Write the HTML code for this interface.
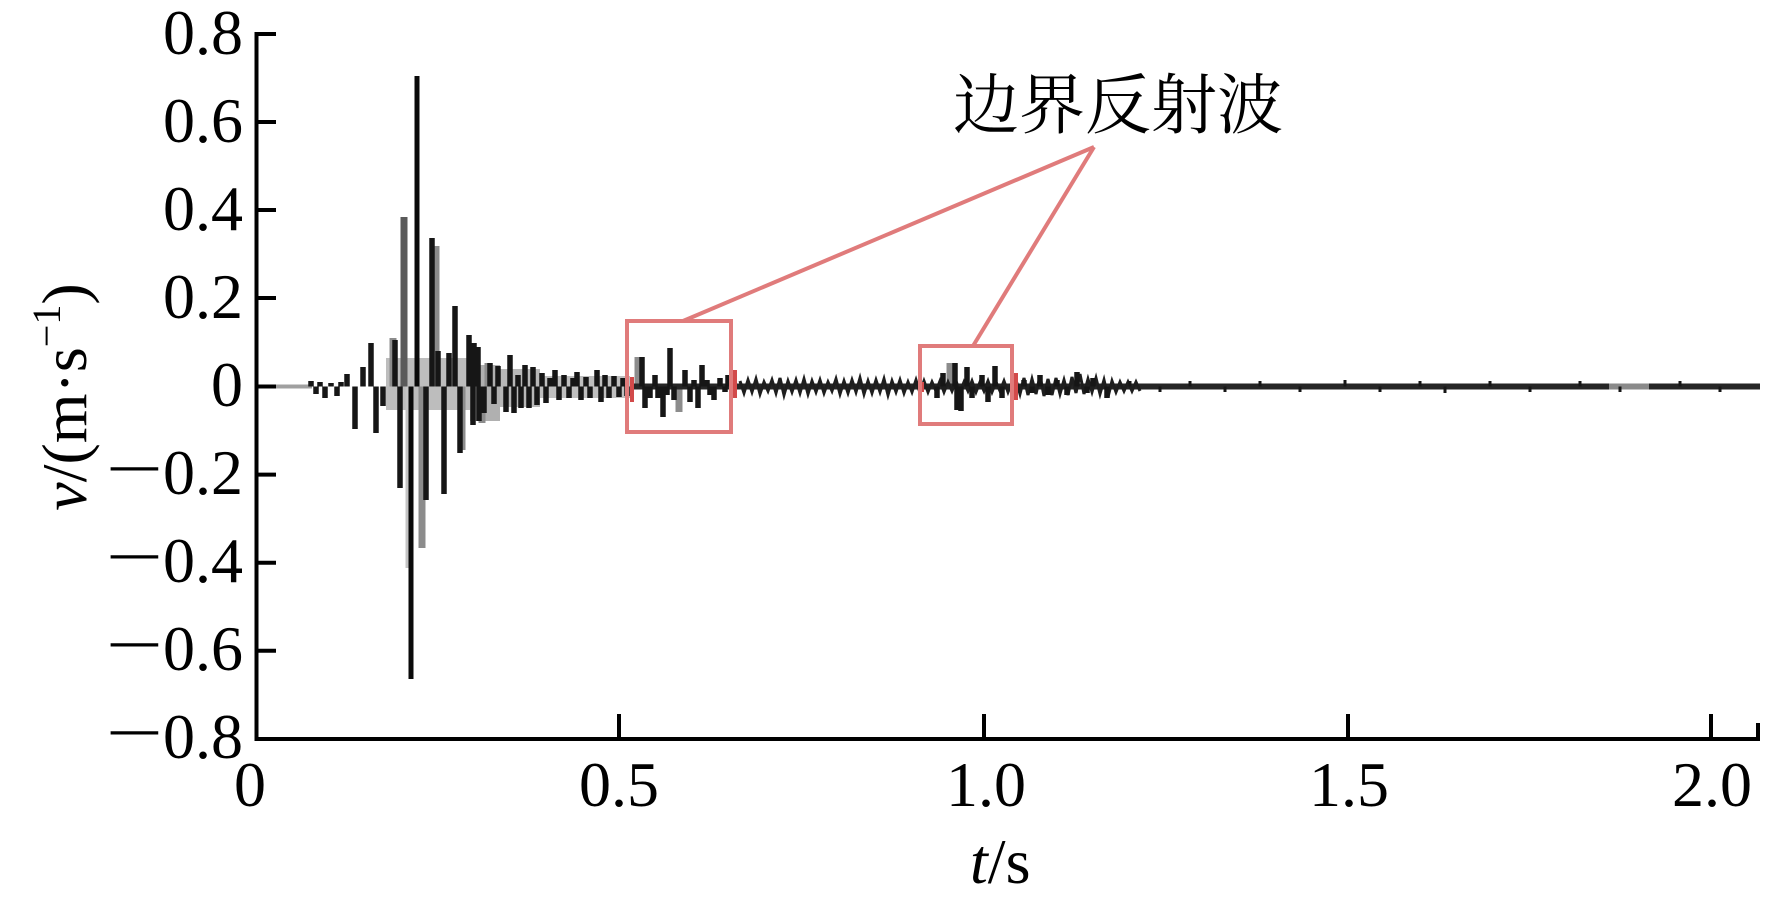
<!DOCTYPE html>
<html>
<head>
<meta charset="utf-8">
<style>
html,body{margin:0;padding:0;background:#fff;}
svg{display:block;}
text{font-family:"Liberation Serif","Noto Serif CJK SC",serif;fill:#000;}
</style>
</head>
<body>
<svg width="1769" height="904" viewBox="0 0 1769 904" xmlns="http://www.w3.org/2000/svg">
<rect x="0" y="0" width="1769" height="904" fill="#fff"/>

<!-- ===== waveform ===== -->
<path d="M258 386.5 H312" stroke="#a0a0a0" stroke-width="4" fill="none"/>
<!-- gray fill blobs -->
<rect x="386" y="358" width="84" height="52" fill="#bdbdbd"/>
<rect x="470" y="365" width="30" height="56" fill="#b0b0b0"/>
<rect x="500" y="369" width="40" height="38" fill="#b8b8b8"/>
<rect x="540" y="376" width="90" height="22" fill="#bfbfbf"/>
<!-- gray bodies -->
<path d="M393 386.5V338 M422 386.5V548 M436 386.5V246 M462 386.5V450 M488 386.5V363 M482 386.5V423 M638 386.5V357 M679 386.5V412 M950 386.5V363"
      stroke="#8c8c8c" stroke-width="7" fill="none"/>
<path d="M404 386.5V217" stroke="#5a5a5a" stroke-width="7" fill="none"/>
<path d="M408 386.5V568" stroke="#c4c4c4" stroke-width="5" fill="none"/>
<!-- continuous band after burst -->
<path d="M630 386.5 H1760" stroke="#262626" stroke-width="6" fill="none"/>
<path d="M1609 386.5 H1649" stroke="#8a8a8a" stroke-width="6" fill="none"/>
<!-- dense small oscillation -->
<polyline fill="none" stroke="#1e1e1e" stroke-width="3" points="
740,381 744,393 748,380 752,392 756,379 760,394 764,382 768,391 772,380 776,393 780,378 784,395 788,381 792,392 796,380 800,393 804,379 808,394 812,381 816,392 820,380 824,393 828,382 832,391 836,379 840,394 844,381 848,393 852,380 856,392 860,378 864,394 868,381 872,393 876,380 880,392 884,379 888,395 892,381 896,392 900,380 904,393 908,382 912,392 916,380 920,393 924,381 928,392 932,382 936,391 940,381 944,392 948,382 952,391 956,381 960,392 964,382 968,391 972,381 976,392 980,382 984,391 988,381 992,392 996,382 1000,391 1004,381 1008,392 1012,382 1016,380 1020,394 1024,378 1028,395 1032,379 1036,394 1040,376 1044,396 1048,379 1052,395 1056,378 1060,394 1064,380 1068,395 1072,377 1076,393 1080,374 1084,394 1088,379 1092,392 1096,378 1100,394 1104,380 1108,397 1112,381 1116,392 1120,382 1124,391 1128,382 1132,391 1136,382 1140,391"/>
<!-- dark bars main burst -->
<path d="
M311 386.5V381 M316 386.5V394 M320 386.5V382 M325 386.5V398 M331 386.5V383 M337 386.5V396 M341 386.5V382
M347 386.5V374 M355 386.5V429 M363 386.5V367 M371 386.5V343 M376 386.5V433 M383 386.5V406
M395 386.5V340 M400 386.5V488 M426 386.5V500 M432 386.5V238 M438 386.5V351 M444 386.5V494
M449 386.5V353 M455 386.5V306 M460 386.5V453 M469 386.5V335 M473 386.5V425 M474 386.5V343
M478 386.5V347 M479 386.5V421 M484 386.5V413 M490 386.5V363 M494 386.5V404 M498 386.5V366
M506 386.5V412 M510 386.5V355 M514 386.5V413 M518 386.5V375 M521 386.5V408 M525 386.5V365
M529 386.5V408 M533 386.5V367 M537 386.5V405 M542 386.5V373 M546 386.5V403 M550 386.5V378
M555 386.5V370 M559 386.5V400 M564 386.5V375 M569 386.5V398 M573 386.5V378 M577 386.5V372
M581 386.5V400 M586 386.5V377 M590 386.5V398 M597 386.5V370 M601 386.5V402 M605 386.5V375
M609 386.5V398 M614 386.5V376 M619 386.5V397 M623 386.5V378 M627 386.5V396
M642 386.5V357 M645 386.5V408 M650 386.5V398 M655 386.5V375 M658 386.5V398 M663 386.5V417
M667 386.5V395 M670 386.5V348 M674 386.5V400 M685 386.5V370 M690 386.5V402 M694 386.5V380
M698 386.5V408 M702 386.5V365 M707 386.5V380 M710 386.5V395 M714 386.5V400 M720 386.5V378
M725 386.5V392 M728 386.5V375
M937 386.5V398 M943 386.5V373 M955 386.5V363 M957 386.5V410 M961 386.5V411 M967 386.5V367
M972 386.5V398 M982 386.5V375 M988 386.5V402 M995 386.5V366 M1002 386.5V398
M1024 386.5V380 M1032 386.5V393 M1040 386.5V375 M1048 386.5V395 M1057 386.5V380 M1067 386.5V395
M1077 386.5V372 M1087 386.5V393 M1093 386.5V378 M1107 386.5V398"
      stroke="#161616" stroke-width="5.5" fill="none"/>
<path d="
M1130 386.5V381 M1160 386.5V392 M1190 386.5V381 M1225 386.5V392 M1260 386.5V381 M1300 386.5V392
M1345 386.5V380 M1380 386.5V392 M1420 386.5V381 M1445 386.5V393 M1490 386.5V381 M1530 386.5V392
M1580 386.5V381 M1620 386.5V392 M1680 386.5V381 M1720 386.5V392"
      stroke="#161616" stroke-width="3" fill="none"/>
<path d="M411 386.5V679 M417 386.5V76" stroke="#0a0a0a" stroke-width="5" fill="none"/>
<!-- red segments in waveform -->
<path d="M632 377V402 M735 370V398 M922 382V392 M1016 373V400" stroke="#d24a4a" stroke-width="4" fill="none"/>

<!-- ===== annotation ===== -->
<g stroke="#e07b7b" stroke-width="4" fill="none">
  <rect x="627" y="321" width="104" height="111"/>
  <rect x="920" y="346" width="92" height="78"/>
  <line x1="683" y1="321" x2="1094" y2="147"/>
  <line x1="973" y1="346" x2="1094" y2="147"/>
</g>
<text x="953" y="128" font-size="66" style='font-family:"Liberation Serif","Noto Serif CJK SC",serif'>边界反射波</text>

<!-- ===== axes ===== -->
<g stroke="#000" stroke-width="4" fill="none">
  <line x1="256.5" y1="32" x2="256.5" y2="741"/>
  <line x1="254.5" y1="739" x2="1760" y2="739"/>
  <line x1="256" y1="34" x2="276" y2="34"/>
  <line x1="256" y1="122" x2="276" y2="122"/>
  <line x1="256" y1="210" x2="276" y2="210"/>
  <line x1="256" y1="298" x2="276" y2="298"/>
  <line x1="256" y1="386.5" x2="276" y2="386.5"/>
  <line x1="256" y1="474.6" x2="276" y2="474.6"/>
  <line x1="256" y1="562.7" x2="276" y2="562.7"/>
  <line x1="256" y1="650.8" x2="276" y2="650.8"/>
  <line x1="619" y1="739" x2="619" y2="714"/>
  <line x1="984" y1="739" x2="984" y2="714"/>
  <line x1="1348" y1="739" x2="1348" y2="714"/>
  <line x1="1711" y1="739" x2="1711" y2="714"/>
  <line x1="1758" y1="741" x2="1758" y2="723"/>
</g>

<!-- y tick labels -->
<g font-size="64" text-anchor="end">
  <text x="243" y="54">0.8</text>
  <text x="243" y="142">0.6</text>
  <text x="243" y="230">0.4</text>
  <text x="243" y="318">0.2</text>
  <text x="243" y="406">0</text>
  <text x="243" y="494">0.2</text>
  <text x="243" y="582">0.4</text>
  <text x="243" y="670">0.6</text>
  <text x="243" y="758">0.8</text>
</g>
<g font-size="64">
  <text transform="translate(105.5,490) scale(1.6,1)">−</text>
  <text transform="translate(105.5,578) scale(1.6,1)">−</text>
  <text transform="translate(105.5,666) scale(1.6,1)">−</text>
  <text transform="translate(105.5,754) scale(1.6,1)">−</text>
</g>

<!-- x tick labels -->
<g font-size="64" text-anchor="middle">
  <text x="250" y="806">0</text>
  <text x="619" y="806">0.5</text>
  <text x="986" y="806">1.0</text>
  <text x="1349" y="806">1.5</text>
  <text x="1712" y="806">2.0</text>
</g>

<!-- axis titles -->
<text x="970" y="883" font-size="64"><tspan font-style="italic">t</tspan>/s</text>
<text transform="translate(86,397) rotate(-90)" font-size="64" text-anchor="middle"><tspan font-style="italic">v</tspan>/(m·s<tspan font-size="40" dy="-26">−1</tspan><tspan dy="26">)</tspan></text>
</svg>
</body>
</html>
